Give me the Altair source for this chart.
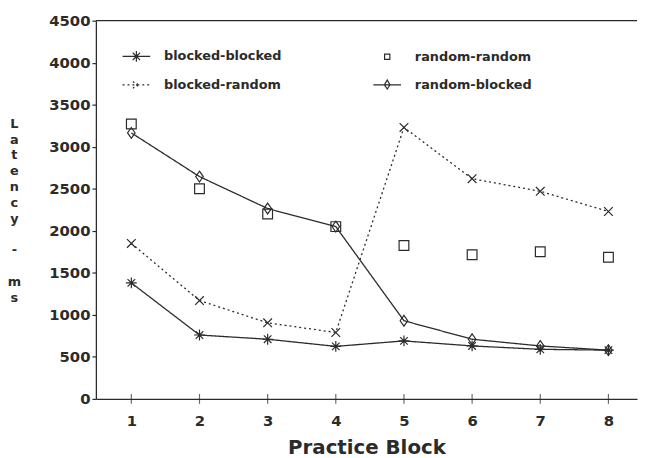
import altair as alt
import pandas as pd

# ---- data ----
blocks = [1, 2, 3, 4, 5, 6, 7, 8]
blocked_blocked = [1380, 760, 710, 625, 690, 630, 590, 580]
blocked_random = [1850, 1170, 905, 790, 3230, 2620, 2470, 2230]
random_random = [3270, 2500, 2200, 2050, 1825, 1715, 1750, 1685]
random_blocked = [3165, 2645, 2265, 2050, 930, 710, 630, 580]

series_names = ["blocked-blocked", "blocked-random", "random-random", "random-blocked"]
series_values = [blocked_blocked, blocked_random, random_random, random_blocked]
y_ticks = [0, 500, 1000, 1500, 2000, 2500, 3000, 3500, 4000, 4500]
y_title = ["L", "a", "t", "e", "n", "c", "y", "\u200b", "-", "\u200b", "m", "s"]
x_title = "Practice Block"

rows = []
for name, vals in zip(series_names, series_values):
    for b, v in zip(blocks, vals):
        rows.append({"block": b, "latency": v, "series": name})
df = pd.DataFrame(rows)

INK = "#2b2b2b"
FONT = "DejaVu Sans"

# marker shapes (plot) and composite line+marker shapes (legend)
marker_paths = [
    "M-1,0L1,0M0,-1L0,1M-0.7,-0.7L0.7,0.7M-0.7,0.7L0.7,-0.7",
    "M-0.8,-0.8L0.8,0.8M-0.8,0.8L0.8,-0.8",
    "M-0.9,-0.9L0.9,-0.9L0.9,0.9L-0.9,0.9Z",
    "M0,-1L0.7,0L0,1L-0.7,0Z",
]
legend_paths = [
    "M-1,0L1,0M0,-0.38L0,0.38M-0.27,-0.27L0.27,0.27M-0.27,0.27L0.27,-0.27",
    "M-1,0L1,0M-0.25,-0.25L0.25,0.25M-0.25,0.25L0.25,-0.25",
    "M-0.19,-0.19L0.19,-0.19L0.19,0.19L-0.19,0.19Z",
    "M-1,0L1,0M0,-0.36L0.2,0L0,0.3L-0.2,0Z",
]
dash_ranges = [[1, 0], [2, 3], [1, 0], [1, 0]]

x_enc = alt.X(
    "block:Q",
    scale=alt.Scale(domain=[0.48, 8.42], nice=False, zero=False),
    axis=alt.Axis(
        values=blocks, format="d", ticks=False, grid=False, labelPadding=15,
        labelFont=FONT, labelFontWeight="bold", labelFontSize=15, labelColor=INK,
        title=x_title, titleFont=FONT, titleFontWeight="bold",
        titleFontSize=20, titleColor=INK, titleX=274, titleY=55,
        titleBaseline="alphabetic", titleAlign="center",
        domainColor=INK, domainWidth=1.3,
    ),
)
y_enc = alt.Y(
    "latency:Q",
    scale=alt.Scale(domain=[0, 4500], nice=False),
    axis=alt.Axis(
        values=y_ticks, format="d", grid=False, tickSize=4, tickColor=INK, tickWidth=1.2,
        labelPadding=2, labelFont=FONT, labelFontWeight="bold", labelFontSize=15,
        labelColor=INK,
        title=y_title, titleAngle=0, titleAlign="center", titleBaseline="middle",
        titleX=-83, titleY=104, titleLineHeight=16, titleFont=FONT,
        titleFontWeight="bold", titleFontSize=13, titleColor=INK,
        domainColor=INK, domainWidth=1.3,
    ),
)

base = alt.Chart(df)

lines = base.transform_filter(alt.datum.series != "random-random").mark_line(
    color=INK, strokeWidth=1.3
).encode(
    x=x_enc, y=y_enc,
    strokeDash=alt.StrokeDash(
        "series:N",
        scale=alt.Scale(domain=series_names, range=dash_ranges),
        legend=None,
    ),
)

points = base.mark_point(filled=False, color=INK, strokeWidth=1.2, size=120, opacity=1).encode(
    x=x_enc, y=y_enc,
    shape=alt.Shape(
        "series:N",
        scale=alt.Scale(domain=series_names, range=marker_paths),
        legend=None,
    ),
)

legend_props = dict(
    orient="none", legendX=26, legendY=21, columns=2, columnPadding=89,
    rowPadding=6, symbolSize=784, labelFont=FONT, labelFontWeight="bold",
    labelFontSize=13, labelColor=INK, labelOffset=13, title=None, padding=0,
    symbolStrokeWidth=1.2, symbolStrokeColor=INK,
)

legend_layer = base.transform_filter("false").mark_point(
    filled=False, color=INK, strokeWidth=1.2, opacity=1
).encode(
    x=x_enc, y=y_enc,
    shape=alt.Shape(
        "series:N",
        scale=alt.Scale(domain=series_names, range=legend_paths),
        legend=alt.Legend(**legend_props),
    ),
    strokeDash=alt.StrokeDash(
        "series:N",
        scale=alt.Scale(domain=series_names, range=dash_ranges),
        legend=alt.Legend(**legend_props),
    ),
)

top_border = alt.Chart(pd.DataFrame({"latency": [4500]})).mark_rule(
    color=INK, strokeWidth=1.2
).encode(y=alt.Y("latency:Q"))

x_ticks = alt.Chart(pd.DataFrame({"block": blocks})).mark_tick(
    orient="vertical", size=10, thickness=1.2, color=INK
).encode(x=alt.X("block:Q"), y=alt.datum(0))

chart = alt.layer(lines, points, legend_layer, top_border, x_ticks).resolve_scale(
    shape="independent", strokeDash="independent"
).properties(
    width=548, height=383,
    padding={"left": 89, "top": 10, "right": 4, "bottom": 57},
    autosize="none",
    background="white",
).configure_view(stroke=None)

chart.save("out.html", embed_options={"renderer": "svg", "actions": False})
